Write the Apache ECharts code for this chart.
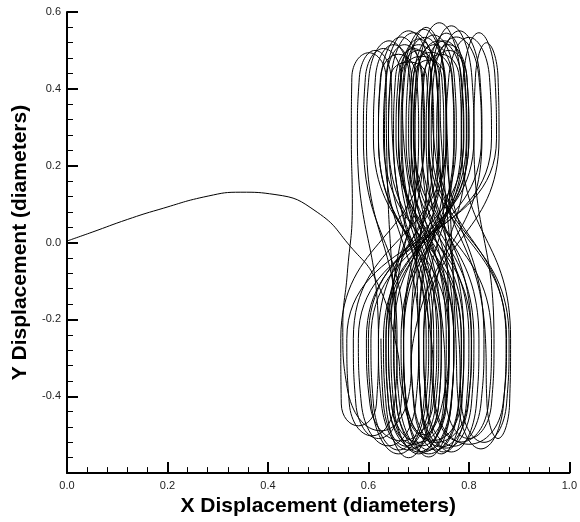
<!DOCTYPE html>
<html>
<head>
<meta charset="utf-8">
<script src="https://cdn.jsdelivr.net/npm/echarts@6/dist/echarts.min.js"></script>
<style>html,body{margin:0;padding:0;background:#fff}#c{width:580px;height:522px}</style>
</head>
<body>
<div id="c"></div>
<script>
const xTickLabels = ['0.0','0.2','0.4','0.6','0.8','1.0'];
const yTickLabels = ['', '-0.4','-0.2','0.0','0.2','0.4','0.6'];
const xTitle = 'X Displacement (diameters)';
const yTitle = 'Y Displacement (diameters)';

// initial approach of the cylinder from the origin
const approach = [[0,0.004],[0.05,0.027],[0.12,0.06],[0.183,0.086],[0.281,0.121],[0.346,0.131],[0.414,0.125],[0.498,0.079],[0.564,-0.01],[0.617,-0.103],[0.656,-0.27],[0.67,-0.40],[0.71,-0.50],[0.75,-0.40],[0.76,-0.25]];

// figure-eight orbits
const orbitA = [
[.74,.27],[.736,.43],[.70,.50],[.664,.43],[.66,.27],[.77,-.25],[.765,-.42],[.72,-.558],[.675,-.42],[.67,-.25],
[.789,.27],[.784,.43],[.741,.572],[.698,.43],[.693,.27],[.755,-.25],[.75,-.42],[.70,-.55],[.65,-.42],[.645,-.25],
[.686,.27],[.682,.43],[.641,.525],[.601,.43],[.596,.27],[.657,-.25],[.652,-.42],[.607,-.503],[.562,-.42],[.557,-.25],
[.855,.27],[.852,.43],[.82,.546],[.789,.43],[.785,.27],[.883,-.25],[.881,-.42],[.858,-.51],[.836,-.42],[.833,-.25],
[.73,.27],[.725,.43],[.68,.551],[.635,.43],[.63,.27],[.785,-.25],[.779,-.42],[.72,-.55],[.662,-.42],[.655,-.25],
[.636,.27],[.635,.43],[.601,.494],[.567,.43],[.566,.27],[.568,.10],[.558,-.08],[.549,-.22],[.558,-.38],[.625,-.49],[.68,-.40],[.69,-.25],
[.826,.27],[.822,.43],[.781,.551],[.741,.43],[.736,.27],[.874,-.25],[.869,-.42],[.824,-.537],[.779,-.42],[.774,-.25],
[.757,.27],[.753,.43],[.712,.534],[.672,.43],[.667,.27],[.736,-.25],[.729,-.42],[.666,-.516],[.603,-.42],[.596,-.25],
[.81,.27],[.806,.43],[.765,.564],[.725,.43],[.72,.27],[.875,-.25],[.868,-.42],[.80,-.525],[.733,-.42],[.725,-.25]
];
const orbitB = [
[.648,.27],[.645,.43],[.613,.50],[.582,.43],[.578,.27],[.62,-.25],[.616,-.42],[.58,-.477],[.546,-.42],[.545,-.25],
[.712,.27],[.708,.43],[.672,.515],[.636,.43],[.632,.27],[.70,-.25],[.694,-.42],[.64,-.529],[.586,-.42],[.58,-.25],
[.845,.27],[.841,.43],[.80,.534],[.76,.43],[.755,.27],[.83,-.25],[.824,-.42],[.77,-.53],[.716,-.42],[.71,-.25],
[.771,.27],[.767,.43],[.731,.515],[.695,.43],[.691,.27],[.845,-.25],[.839,-.42],[.785,-.519],[.731,-.42],[.725,-.25],
[.796,.27],[.792,.43],[.751,.525],[.711,.43],[.706,.27],[.761,-.25],[.756,-.42],[.706,-.529],[.656,-.42],[.651,-.25],
[.70,.27],[.696,.43],[.66,.49],[.624,.43],[.62,.27],[.74,-.25],[.734,-.42],[.68,-.54],[.626,-.42],[.62,-.25],
[.755,.27],[.752,.43],[.72,.475],[.689,.43],[.685,.27],[.80,-.25],[.795,-.42],[.75,-.545],[.705,-.42],[.70,-.25],
[.74,.27],[.735,.43],[.69,.546],[.645,.43],[.64,.27],[.715,-.25],[.71,-.42],[.66,-.54],[.61,-.42],[.605,-.25],
[.825,.27],[.82,.43],[.775,.535],[.73,.43],[.725,.27],[.88,-.25],[.875,-.42],[.83,-.52],[.785,-.42],[.78,-.25]
];
const orbitC = [
[.745,.27],[.741,.43],[.70,.515],[.66,.43],[.655,.27],[.805,-.25],[.798,-.42],[.735,-.52],[.672,-.42],[.665,-.25],
[.785,.27],[.781,.43],[.745,.49],[.709,.43],[.705,.27],[.82,-.25],[.815,-.42],[.765,-.545],[.715,-.42],[.71,-.25],
[.86,.27],[.858,.43],[.835,.52],[.813,.43],[.81,.27],[.85,-.25],[.845,-.42],[.80,-.51],[.755,-.42],[.75,-.25],
[.67,.27],[.666,.43],[.63,.505],[.594,.43],[.59,.27],[.67,-.25],[.665,-.42],[.62,-.51],[.575,-.42],[.57,-.25],
[.755,.27],[.751,.43],[.71,.555],[.67,.43],[.665,.27],[.73,-.25],[.725,-.42],[.68,-.56],[.635,-.42],[.63,-.25],
[.80,.27],[.796,.43],[.76,.50],[.724,.43],[.72,.27],[.805,-.25],[.799,-.42],[.745,-.532],[.691,-.42],[.685,-.25],
[.72,.27],[.716,.43],[.68,.47],[.644,.43],[.64,.27],[.77,-.25],[.764,-.42],[.71,-.545],[.656,-.42],[.65,-.25],
[.775,.27],[.771,.43],[.73,.54],[.69,.43],[.685,.27],[.745,-.25],[.74,-.42],[.69,-.535],[.64,-.42],[.635,-.25]
];
const orbitD = [
[.74,.27],[.736,.43],[.70,.53],[.664,.43],[.66,.27],[.785,-.25],[.78,-.42],[.735,-.54],[.69,-.42],[.685,-.25],
[.77,.27],[.766,.43],[.725,.495],[.685,.43],[.68,.27],[.76,-.25],[.754,-.42],[.70,-.545],[.646,-.42],[.64,-.25],
[.71,.27],[.706,.43],[.665,.535],[.625,.43],[.62,.27],[.745,-.25],[.74,-.42],[.69,-.525],[.64,-.42],[.635,-.25],
[.795,.27],[.791,.43],[.755,.545],[.719,.43],[.715,.27],[.77,-.25],[.765,-.42],[.72,-.54],[.675,-.42],[.67,-.25],
[.73,.27],[.726,.43],[.69,.505],[.654,.43],[.65,.27],[.72,-.25],[.714,-.42],[.66,-.55],[.606,-.42],[.60,-.25],
[.79,.27],[.785,.43],[.74,.525],[.695,.43],[.69,.27],[.81,-.25],[.805,-.42],[.755,-.535],[.705,-.42],[.70,-.25],
[.755,.27],[.751,.43],[.715,.56],[.679,.43],[.675,.27],[.79,-.25],[.786,-.42],[.745,-.55],[.704,-.42],[.70,-.25],
[.69,.27],[.686,.43],[.65,.515],[.614,.43],[.61,.27],[.76,-.25],[.754,-.42],[.70,-.52],[.646,-.42],[.64,-.25],
[.80,.27],[.796,.43],[.76,.515],[.724,.43],[.72,.27],[.79,-.25],[.784,-.42],[.73,-.515],[.676,-.42],[.67,-.25],
[.75,.27],[.746,.43],[.705,.485],[.665,.43],[.66,.27],[.725,-.25],[.72,-.42],[.675,-.53],[.63,-.42],[.625,-.25]
];

const trajectory = approach.concat(orbitA, orbitB, orbitC, orbitD);

const FONT = '"Liberation Sans", Arial, Helvetica, sans-serif';
const chart = echarts.init(document.getElementById('c'), null, {renderer: 'canvas'});

function axisCommon() {
  return {
    axisLine: {show: true, onZero: false, lineStyle: {color: '#000', width: 2}},
    axisTick: {show: true, inside: true, length: 11, lineStyle: {color: '#000', width: 2}},
    minorTick: {show: true, splitNumber: 5, length: 6, lineStyle: {color: '#000', width: 1}},
    splitLine: {show: false},
    minorSplitLine: {show: false}
  };
}

chart.setOption({
  animation: false,
  backgroundColor: '#fff',
  grid: {left: 67, right: 6.5, top: 12, bottom: 47, containLabel: false},
  xAxis: Object.assign(axisCommon(), {
    type: 'value', min: 0, max: 1, interval: 0.2,
    name: xTitle, nameLocation: 'middle', nameGap: 20,
    nameTextStyle: {fontFamily: FONT, fontSize: 21, fontWeight: 'bold', color: '#000'},
    axisLabel: {
      margin: 7, fontFamily: FONT, fontSize: 11, color: '#222',
      formatter: v => xTickLabels[Math.round(v / 0.2)]
    }
  }),
  yAxis: Object.assign(axisCommon(), {
    type: 'value', min: -0.6, max: 0.6, interval: 0.2,
    name: yTitle, nameLocation: 'middle', nameGap: 30,
    nameTextStyle: {fontFamily: FONT, fontSize: 21, fontWeight: 'bold', color: '#000'},
    axisLabel: {
      margin: 6, fontFamily: FONT, fontSize: 11, color: '#222',
      formatter: v => yTickLabels[Math.round((v + 0.6) / 0.2)]
    }
  }),
  series: [{
    type: 'line',
    data: trajectory,
    showSymbol: false,
    smooth: 0.5,
    clip: false,
    lineStyle: {color: '#000', width: 1}
  }]
});
</script>
</body>
</html>
